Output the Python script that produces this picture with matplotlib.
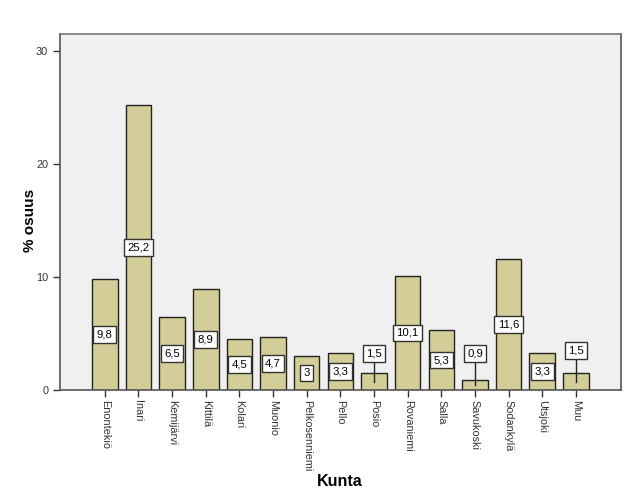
import matplotlib
matplotlib.use("Agg")
import matplotlib.pyplot as plt
import numpy as np

categories = ["Enontekiö", "Inari", "Kemijärvi", "Kittilä", "Kolari", "Muonio",
              "Pelkosenniemi", "Pello", "Posio", "Rovaniemi", "Salla", "Savukoski",
              "Sodankylä", "Utsjoki", "Muu"]
values = [9.8, 25.2, 6.5, 8.9, 4.5, 4.7, 3, 3.3, 1.5, 10.1, 5.3, 0.9, 11.6, 3.3, 1.5]
yticks = [0, 10, 20, 30]

plt.rcParams['font.family'] = ['Liberation Sans', 'DejaVu Sans']

fig = plt.figure(figsize=(6.29, 5.04), dpi=100)
ax = fig.add_axes([60/629, 1-390/504, (621-60)/629, (390-34)/504])
ax.set_facecolor('#f0f0f0')

x = np.arange(len(categories))
ax.bar(x, values, width=0.76, color='#d3ce97', edgecolor='#222222', linewidth=1.0, zorder=2)

ax.set_xlim(-1.33, len(categories) - 1 + 1.34)
ax.set_ylim(0, 31.5)
ax.set_yticks(yticks)
ax.set_yticklabels([str(t) for t in yticks])
ax.set_xticks(x)
ax.set_xticklabels(categories, rotation=270, ha='center', va='top')

for s in ax.spines.values():
    s.set_color('#555555')
    s.set_linewidth(1.2)
ax.spines['top'].set_color('#777777')

ax.tick_params(axis='both', colors='#333333', labelsize=7.8, length=5, width=1, direction='out')
ax.tick_params(axis='x', pad=2)

def fmt(v):
    return ('%g' % v).replace('.', ',')

box = dict(boxstyle='square,pad=0.3', facecolor='white', edgecolor='#333333', linewidth=1)
for xi, v in zip(x, values):
    if v >= 2.5:
        ypos = v / 2
    else:
        ypos = 3.5 if xi == len(values) - 1 else 3.2
        ax.plot([xi, xi], [v / 2, ypos], color='#222222', linewidth=1, zorder=3)
    ax.text(xi, ypos, fmt(v), ha='center', va='center', fontsize=8.2, color='black', zorder=4, bbox=box)

fig.text(30/629, 1-220/504, '% osuus', rotation=90, ha='center', va='center', fontsize=11, fontweight='bold')
fig.text(340/629, 1-481/504, 'Kunta', ha='center', va='center', fontsize=11.5, fontweight='bold')

fig.savefig('out.png', dpi=100, facecolor='white')
